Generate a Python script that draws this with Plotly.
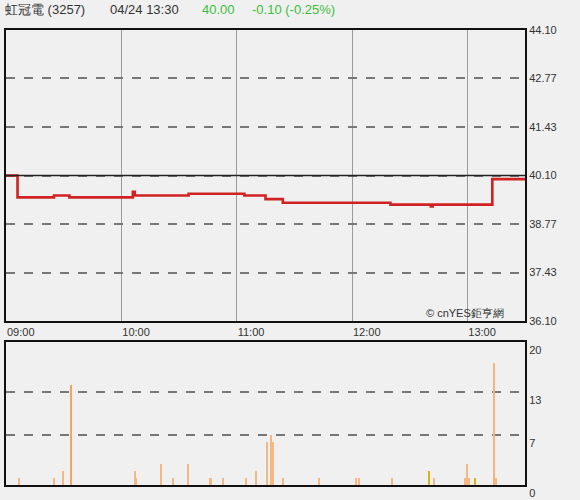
import plotly.graph_objects as go

DAY = "2024-04-24 "
PREV_CLOSE = 40.10

# price change points (minute line, drawn as steps)
price_times = ["09:00", "09:06", "09:25", "09:33", "10:06", "10:07", "10:35", "11:04",
               "11:15", "11:24", "12:20", "12:41", "12:42", "13:13", "13:30"]
price_values = [40.10, 39.50, 39.55, 39.50, 39.65, 39.55, 39.60, 39.55,
                39.45, 39.35, 39.30, 39.25, 39.30, 40.00, 40.00]

# volume per minute (lots)
vol_times = ["09:07", "09:25", "09:30", "09:34", "10:07", "10:08", "10:21", "10:27",
             "10:35", "10:46", "10:47", "10:53", "11:05", "11:10", "11:16", "11:18",
             "11:19", "11:24", "11:43", "12:02", "12:04", "12:21", "12:40", "12:43",
             "12:59", "13:00", "13:01", "13:04", "13:14", "13:15"]
vol_values = [1, 1, 2, 14, 2, 1, 3, 1,
              3, 1, 1, 1, 1, 2, 6, 7,
              6, 1, 1, 1, 1, 1, 2, 1,
              1, 3, 1, 1, 17, 1]
vol_colors = ["#f5b882"] * len(vol_values)
vol_colors[3] = "#f4a45c"
vol_colors[22] = "#d9b21c"
vol_colors[27] = "#d9b21c"
vol_colors[28] = "#f7b47a"

price_ticks = [36.10, 37.43, 38.77, 40.10, 41.43, 42.77, 44.10]
vol_ticks = [0, 7, 13, 20]
hour_ticks = ["09:00", "10:00", "11:00", "12:00", "13:00"]

FONT = "Liberation Sans, Arial, sans-serif"
BG = "#f0f0f0"

fig = go.Figure()

fig.add_trace(go.Scatter(
    x=[DAY + t for t in price_times], y=price_values,
    mode="lines", line=dict(color="#d02222", width=2.6, shape="hv"),
    xaxis="x", yaxis="y", hoverinfo="x+y"
))

fig.add_trace(go.Bar(
    x=[DAY + t for t in vol_times], y=vol_values,
    marker=dict(color=vol_colors, line=dict(width=0)),
    width=45000, xaxis="x2", yaxis="y2"
))

# previous close reference line
fig.add_shape(type="line", xref="x domain", yref="y", x0=0, x1=1,
              y0=PREV_CLOSE, y1=PREV_CLOSE, line=dict(color="#222", width=1.5))

x_range = [DAY + "09:00", DAY + "13:30"]

fig.update_layout(
    width=580, height=500,
    margin=dict(l=6, r=55, t=30, b=15),
    paper_bgcolor=BG, plot_bgcolor=BG,
    showlegend=False,
    bargap=0,
    font=dict(family=FONT, size=11, color="#333"),
    xaxis=dict(
        type="date", range=x_range, domain=[0, 1], anchor="y", automargin=False,
        tickvals=[DAY + t for t in hour_ticks], ticktext=hour_ticks,
        ticklabelposition="outside right", ticks="",
        showgrid=True, gridcolor="#9a9a9a", gridwidth=1,
        showline=True, linecolor="#111", linewidth=2, mirror=True,
        zeroline=False, tickfont=dict(size=11, color="#333"),
    ),
    yaxis=dict(
        domain=[0.3604, 1], anchor="x", side="right", automargin=False,
        range=[price_ticks[0], price_ticks[-1]],
        tickvals=price_ticks, ticktext=[f"{v:.2f}" for v in price_ticks],
        ticks="", showgrid=True, gridcolor="#777", gridwidth=1.5, griddash="dash",
        showline=True, linecolor="#111", linewidth=2, mirror=True,
        zeroline=False, tickfont=dict(size=11, color="#333"),
    ),
    xaxis2=dict(
        type="date", range=x_range, domain=[0, 1], anchor="y2", automargin=False,
        showticklabels=False, ticks="", showgrid=False,
        showline=True, linecolor="#111", linewidth=2, mirror=True, zeroline=False,
    ),
    yaxis2=dict(
        domain=[0, 0.3143], anchor="x2", side="right", automargin=False,
        range=[0, 20], tickvals=vol_ticks, ticktext=[str(v) for v in vol_ticks],
        ticklabelposition="outside bottom", ticks="",
        showgrid=True, gridcolor="#777", gridwidth=1.5, griddash="dash",
        showline=True, linecolor="#111", linewidth=2, mirror=True,
        zeroline=False, tickfont=dict(size=11, color="#333"),
    ),
)

# header
header = [
    ("虹冠電 (3257)", "#333", -0.006),
    ("04/24 13:30", "#333", 0.197),
    ("40.00", "#3cbf3c", 0.374),
    ("-0.10 (-0.25%)", "#3cbf3c", 0.470),
]
for text, color, xpos in header:
    fig.add_annotation(text=text, xref="paper", yref="paper", x=xpos, y=1.044,
                       xanchor="left", yanchor="middle", showarrow=False,
                       font=dict(family=FONT, size=13, color=color))

fig.add_annotation(text="© cnYES鉅亨網", xref="x domain", yref="y domain",
                   x=0.963, y=0.027, xanchor="right", yanchor="middle",
                   showarrow=False, font=dict(family=FONT, size=11, color="#333"))

# page body has a default margin; drop it so the figure sits at the window corner
fig.write_html("out.html", config={"displayModeBar": False},
               post_script="document.body.style.margin='0';")
